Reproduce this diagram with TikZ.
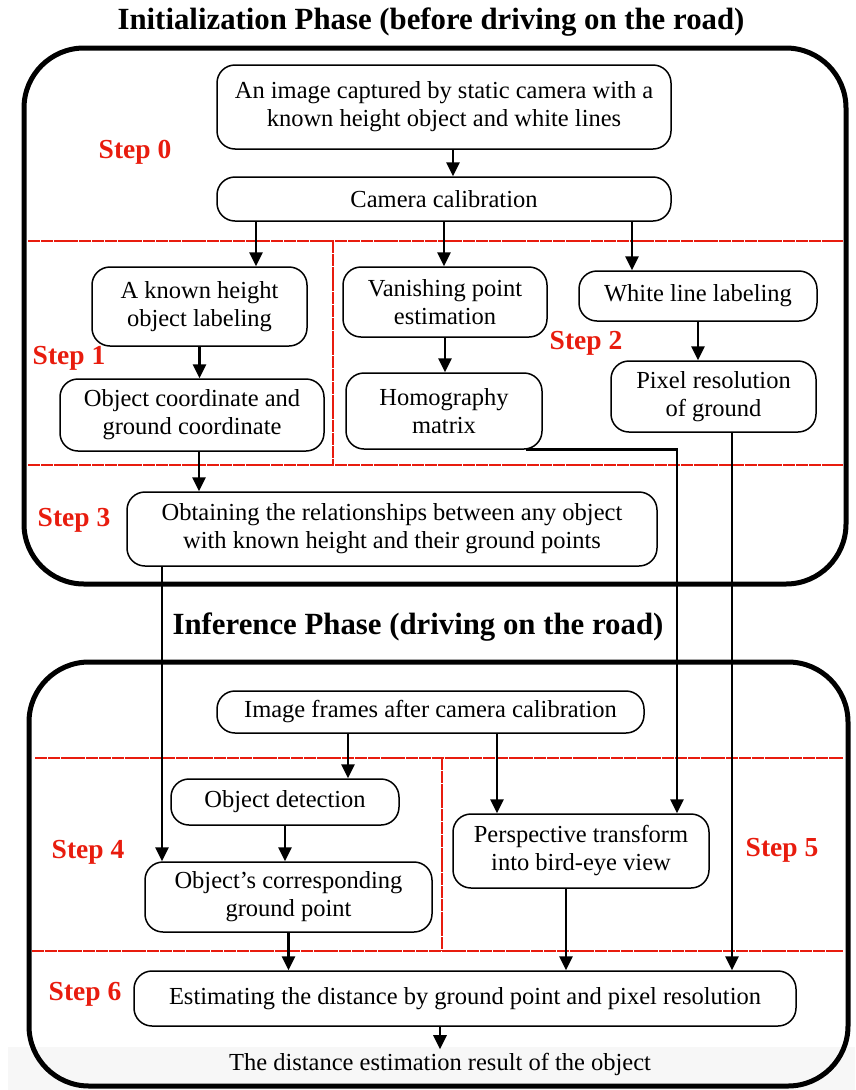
\documentclass[tikz,border=0pt]{standalone}
\usepackage{fontspec}
\setmainfont{Liberation Serif}
\usetikzlibrary{arrows.meta}
\definecolor{stepred}{RGB}{232,28,14}
\begin{document}
\begin{tikzpicture}[x=1pt,y=-1pt,
  box/.style={draw, line width=1.5pt, rounded corners=18pt, align=center, inner sep=0pt,
    font=\fontsize{24.5}{28}\selectfont},
  phase/.style={line width=5pt, rounded corners=60pt},
  divider/.style={draw=stepred, line width=2pt, dash pattern=on 12pt off 0.8pt},
  arr/.style={line width=2.6pt, -{Triangle[length=14pt,width=13pt]}},
  steplabel/.style={text=stepred, font=\fontsize{27.5}{31}\selectfont\bfseries},
  title/.style={font=\fontsize{30.8}{35}\selectfont\bfseries},
  plain/.style={font=\fontsize{24.5}{28}\selectfont},
]
\useasboundingbox (0,0) rectangle (855,1090);
\fill[black!3] (8,1047) rectangle (855,1090);

% phase frames and titles
\node[title] (t1) at (431,22) {Initialization Phase (before driving on the road)};
\node[title] (t2) at (418,627) {Inference Phase (driving on the road)};
\draw[phase] (24,48) rectangle (846,584);
\draw[phase] (29,662) rectangle (848,1086);

% step dividers
\draw[divider] (28,241) -- (843,241);
\draw[divider] (333,241) -- (333,465);
\draw[divider] (28,465) -- (843,465);
\draw[divider] (35,758) -- (843,758);
\draw[divider] (442,758) -- (442,951);
\draw[divider] (32,951) -- (843,951);

% step labels
\node[steplabel] (s0) at (135,152) {Step 0};
\node[steplabel] (s1) at (69,358) {Step 1};
\node[steplabel] (s2) at (586,343) {Step 2};
\node[steplabel] (s3) at (74,520) {Step 3};
\node[steplabel] (s4) at (88,852) {Step 4};
\node[steplabel] (s5) at (782,850) {Step 5};
\node[steplabel] (s6) at (85,994) {Step 6};

% initialization boxes
\node[box, minimum width=454pt, minimum height=84pt] (img) at (444,107)
  {An image captured by static camera with a\\known height object and white lines};
\node[box, minimum width=454pt, minimum height=44pt] (cal) at (444,199) {Camera calibration};
\node[box, minimum width=215pt, minimum height=79pt] (known) at (199.5,306.5)
  {A known height\\object labeling};
\node[box, minimum width=264pt, minimum height=72pt] (objc) at (192,415)
  {Object coordinate and\\ground coordinate};
\node[box, minimum width=204pt, minimum height=70pt] (van) at (445,302)
  {Vanishing point\\estimation};
\node[box, minimum width=196pt, minimum height=76pt] (hom) at (444,411)
  {Homography\\matrix};
\node[box, minimum width=238pt, minimum height=50pt] (white) at (698,296)
  {White line labeling};
\node[box, minimum width=205pt, minimum height=71pt] (pix) at (713.5,396.5)
  {Pixel resolution\\of ground};
\node[box, minimum width=530pt, minimum height=74pt] (rel) at (392,529)
  {Obtaining the relationships between any object\\with known height and their ground points};

% inference boxes
\node[box, minimum width=427pt, minimum height=42pt] (frames) at (430.5,712)
  {Image frames after camera calibration};
\node[box, minimum width=228pt, minimum height=46pt] (det) at (285,802) {Object detection};
\node[box, minimum width=287pt, minimum height=70pt] (gp) at (288.5,897)
  {Object’s corresponding\\ground point};
\node[box, minimum width=256pt, minimum height=74pt] (persp) at (581,851)
  {Perspective transform\\into bird-eye view};
\node[box, minimum width=662pt, minimum height=55pt] (est) at (465,998.5)
  {Estimating the distance by ground point and pixel resolution};
\node[plain] (res) at (440,1064) {The distance estimation result of the object};

% connectors: initialization
\draw[arr] ([xshift=9pt]img.south) -- ([xshift=9pt]cal.north);
\draw[arr] ([xshift=-188pt]cal.south) -- ([xshift=-188pt]cal.south |- known.north);
\draw[arr] (cal.south) -- (cal.south |- van.north);
\draw[arr] ([xshift=188pt]cal.south) -- ([xshift=188pt]cal.south |- white.north);
\draw[arr] (known.south) -- (known.south |- objc.north);
\draw[arr] (van.south) -- (van.south |- hom.north);
\draw[arr] (white.south) -- (white.south |- pix.north);
\draw[arr] ([xshift=7pt]objc.south) -- ([xshift=7pt]objc.south |- rel.north);

% connectors: into inference
\draw[arr] ([xshift=-17pt]hom.south east) -| ([xshift=96pt]persp.north);
\draw[arr] ([xshift=18.5pt]pix.south) -- ([xshift=18.5pt]pix.south |- est.north);
\draw[arr] ([xshift=-230pt]rel.south) -- ([xshift=-230pt]rel.south |- gp.north);

% connectors: inference
\draw[arr] ([xshift=-82.5pt]frames.south) -- ([xshift=-82.5pt]frames.south |- det.north);
\draw[arr] ([xshift=66.5pt]frames.south) -- ([xshift=66.5pt]frames.south |- persp.north);
\draw[arr] (det.south) -- (det.south |- gp.north);
\draw[arr] (gp.south) -- (gp.south |- est.north);
\draw[arr] ([xshift=-15pt]persp.south) -- ([xshift=-15pt]persp.south |- est.north);
\draw[arr] ([xshift=-25pt]est.south) -- ([xshift=-25pt]est.south |- res.north);
\end{tikzpicture}
\end{document}
